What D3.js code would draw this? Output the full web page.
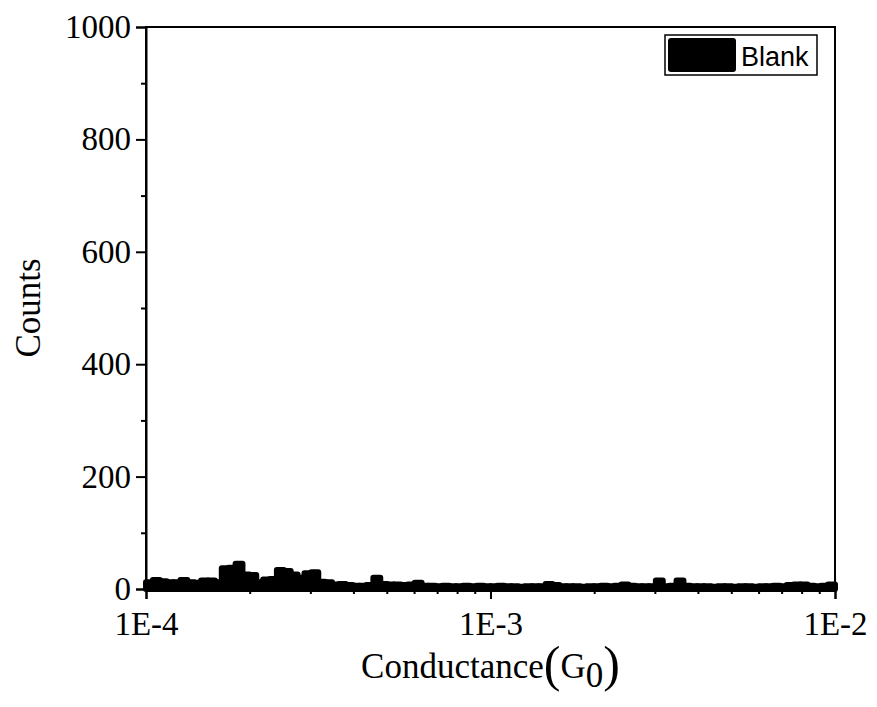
<!DOCTYPE html>
<html>
<head>
<meta charset="utf-8">
<script src="https://cdn.jsdelivr.net/npm/d3@7"></script>
<style>
  body { margin: 0; background: #fff; }
  text { fill: #000; }
</style>
</head>
<body>
<svg id="chart" width="877" height="707"></svg>
<script>
// DATA
// --------------------------------------
// histogram counts, 100 log-spaced bins from 1E-4 to 1E-2
var counts = [
  12, 16, 14, 12, 12, 16, 12, 11, 15, 15,
  12, 37, 38, 45, 26, 25, 12, 17, 18, 34,
  32, 26, 20, 28, 30, 13, 12,  8,  9,  7,
   6,  6,  7, 20,  9,  8,  8,  7,  8, 11,
   6,  6,  5,  6,  5,  5,  6,  5,  6,  5,
   5,  6,  5,  5,  4,  5,  5,  5,  9,  7,
   5,  5,  5,  4,  5,  5,  6,  5,  6,  8,
   6,  5,  5,  5, 15,  5,  6, 15,  6,  5,
   5,  5,  4,  5,  5,  4,  5,  5,  4,  5,
   5,  6,  5,  7,  8,  8,  6,  5,  6,  8
];
var xDomain = [1e-4, 1e-2];
var yDomain = [0, 1000];
var yTicks = [0, 200, 400, 600, 800, 1000];
var yMinorTicks = [100, 300, 500, 700, 900];
var xTicks = [1e-4, 1e-3, 1e-2];
var xTickLabels = ['1E-4', '1E-3', '1E-2'];
var seriesName = 'Blank';

// LAYOUT
// --------------------------------------
var M = { left: 146, top: 27, right: 835, bottom: 589 };
var SERIF = '"Liberation Serif", "Times New Roman", serif';

var svg = d3.select('#chart');

var x = d3.scaleLog().domain(xDomain).range([M.left, M.right]);
var y = d3.scaleLinear().domain(yDomain).range([M.bottom, M.top]);

// bin edges (log spaced)
var nBins = counts.length;
var lo = Math.log10(xDomain[0]), hi = Math.log10(xDomain[1]);
var bins = counts.map(function(c, i){
    return {
        x0: Math.pow(10, lo + (hi - lo) * i / nBins),
        x1: Math.pow(10, lo + (hi - lo) * (i + 1) / nBins),
        count: c
    };
});

// bars
svg.append('g').selectAll('rect')
    .data(bins)
    .enter().append('rect')
    .attr('x', function(d){ return x(d.x0); })
    .attr('width', function(d){ return x(d.x1) - x(d.x0); })
    .attr('y', function(d){ return y(d.count); })
    .attr('height', function(d){ return y(0) - y(d.count); })
    .attr('fill', '#000')
    .attr('stroke', '#000')
    .attr('stroke-width', 6)
    .attr('stroke-linejoin', 'round');

// frame
svg.append('rect')
    .attr('x', M.left).attr('y', M.top)
    .attr('width', M.right - M.left).attr('height', M.bottom - M.top)
    .attr('fill', 'none').attr('stroke', '#000').attr('stroke-width', 2);

// y axis
var yAxis = d3.axisLeft(y).tickValues(yTicks).tickSize(10).tickPadding(5)
    .tickFormat(d3.format('d'));
var gy = svg.append('g').attr('transform', 'translate(' + M.left + ',0)').call(yAxis);
gy.select('.domain').attr('stroke-width', 2);
gy.selectAll('.tick line').attr('stroke-width', 2);
gy.selectAll('.tick text')
    .style('font-family', SERIF)
    .style('font-size', '33px');

svg.append('g').attr('transform', 'translate(' + M.left + ',0)')
    .call(d3.axisLeft(y).tickValues(yMinorTicks).tickSize(5).tickFormat(''))
    .call(function(g){ g.select('.domain').remove(); })
    .selectAll('.tick line').attr('stroke-width', 2);

// x axis
var xAxis = d3.axisBottom(x).tickValues(xTicks).tickSize(10).tickPadding(13)
    .tickFormat(function(d, i){ return xTickLabels[i]; });
var gx = svg.append('g').attr('transform', 'translate(0,' + M.bottom + ')').call(xAxis);
gx.select('.domain').attr('stroke-width', 2);
gx.selectAll('.tick line').attr('stroke-width', 2);
gx.selectAll('.tick text')
    .style('font-family', SERIF)
    .style('font-size', '33px');

var xMinor = [];
[1e-4, 1e-3].forEach(function(dec){
    for (var k = 2; k <= 9; k++) { xMinor.push(dec * k); }
});
svg.append('g').attr('transform', 'translate(0,' + M.bottom + ')')
    .call(d3.axisBottom(x).tickValues(xMinor).tickSize(5).tickFormat(''))
    .call(function(g){ g.select('.domain').remove(); })
    .selectAll('.tick line').attr('stroke-width', 2);

// axis titles
svg.append('text')
    .attr('transform', 'translate(40,' + ((M.top + M.bottom) / 2) + ') rotate(-90)')
    .attr('text-anchor', 'middle')
    .style('font-family', SERIF)
    .style('font-size', '35px')
    .text('Counts');

var xt = svg.append('text')
    .attr('x', (M.left + M.right) / 2).attr('y', 678)
    .attr('text-anchor', 'middle')
    .style('font-family', SERIF)
    .style('font-size', '35px');
xt.append('tspan').text('Conductance');
xt.append('tspan').style('font-size', '50px').attr('dy', 3).text('(');
xt.append('tspan').attr('dy', -3).text('G');
xt.append('tspan').attr('dy', 9).text('0');
xt.append('tspan').style('font-size', '50px').attr('dy', -6).text(')');

// legend
var lg = svg.append('g');
lg.append('rect')
    .attr('x', 665).attr('y', 35).attr('width', 152).attr('height', 40)
    .attr('fill', '#fff').attr('stroke', '#000').attr('stroke-width', 1.5);
lg.append('rect')
    .attr('x', 668).attr('y', 38).attr('width', 68).attr('height', 34).attr('rx', 3)
    .attr('fill', '#000');
lg.append('text')
    .attr('x', 741).attr('y', 66)
    .style('font-family', '"Liberation Sans", Arial, sans-serif')
    .style('font-size', '27px')
    .text(seriesName);
</script>
</body>
</html>
